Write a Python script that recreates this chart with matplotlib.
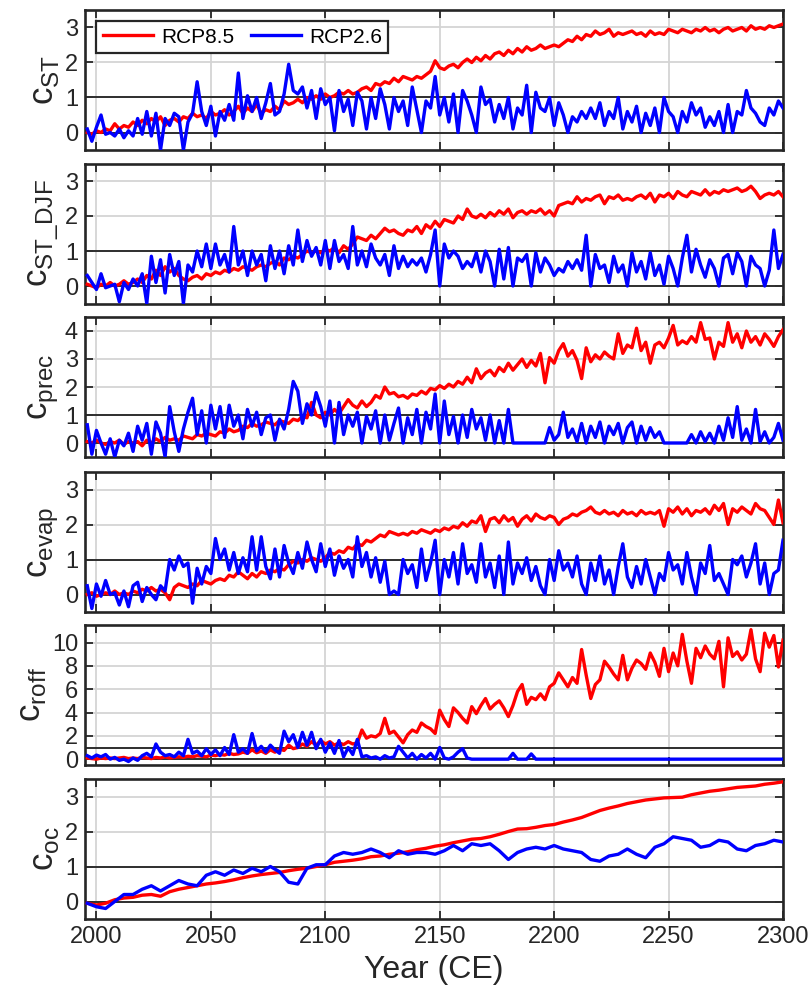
import numpy as np
import matplotlib
matplotlib.use('Agg')
from matplotlib import pyplot as plt

plt.rcParams['font.family'] = ['Liberation Sans', 'DejaVu Sans']
plt.rcParams['mathtext.fontset'] = 'custom'
plt.rcParams['mathtext.rm'] = 'Liberation Sans'

# yearly values sampled every 2 years, 1996..2300
years = np.arange(1996, 2301, 2)

st_85 = [0.0, -0.05, 0.05, 0.0, 0.1, 0.05, 0.25, 0.1, 0.2, 0.15,
         0.3, 0.2, 0.35, 0.25, 0.4, 0.3, 0.45, 0.2, 0.35, 0.4,
         0.3, 0.45, 0.4, 0.55, 0.45, 0.5, 0.4, 0.6, 0.5, 0.55,
         0.65, 0.5, 0.6, 0.75, 0.55, 0.7, 0.6, 0.8, 0.55, 0.65,
         0.6, 0.75, 0.65, 0.9, 0.8, 0.85, 0.95, 0.85, 1.0, 0.95,
         1.05, 0.95, 1.1, 1.0, 1.05, 1.15, 1.1, 1.2, 1.1, 1.15,
         1.25, 1.3, 1.2, 1.4, 1.35, 1.45, 1.4, 1.55, 1.45, 1.6,
         1.55, 1.5, 1.6, 1.55, 1.65, 1.75, 2.05, 1.85, 1.8, 1.9,
         1.95, 1.85, 2.0, 2.1, 2.0, 2.15, 2.05, 2.2, 2.1, 2.25,
         2.3, 2.2, 2.35, 2.25, 2.4, 2.3, 2.45, 2.35, 2.4, 2.5,
         2.4, 2.45, 2.5, 2.45, 2.55, 2.65, 2.6, 2.75, 2.65, 2.8,
         2.75, 2.9, 2.8, 2.85, 2.95, 2.75, 2.85, 2.8, 2.85, 2.9,
         2.8, 2.85, 2.75, 2.9, 2.8, 2.85, 2.8, 2.95, 2.9, 2.85,
         2.95, 2.9, 2.85, 2.95, 2.9, 3.0, 2.9, 2.95, 2.85, 2.95,
         3.0, 2.9, 2.95, 3.0, 2.9, 3.05, 2.95, 3.0, 2.95, 3.05,
         3.0, 3.05, 3.1]
st_26 = [0.1, -0.25, 0.15, 0.5, -0.05, 0.0, -0.1, 0.1, -0.15, 0.05,
         -0.1, 0.4, -0.05, 0.6, -0.1, 0.55, -0.5, 0.4, 0.2, 0.55,
         0.45, -0.5, 0.3, 0.55, 1.45, 0.6, 0.2, 0.75, -0.1, 0.6,
         0.35, 0.8, 0.35, 1.7, 0.4, 1.05, 0.6, 1.0, 0.4, 0.85,
         1.4, 0.5, 0.6, 1.1, 1.95, 1.2, 1.1, 1.3, 0.7, 1.2,
         0.4, 1.25, 0.8, 1.0, 0.05, 1.2, 0.6, 0.95, 0.2, 1.15,
         0.9, 0.1, 1.0, 0.4, 1.25, 0.8, 0.1, 1.0, 0.6, 0.9,
         0.2, 1.3, 0.65, 0.0, 0.9, 0.7, 1.6, 0.5, 1.0, 0.3,
         1.1, 0.0, 1.2, 0.9, 0.5, 0.0, 1.3, 0.8, 0.95, 0.3,
         0.8, 0.4, 1.0, 0.1, 0.7, 0.5, 1.35, 0.0, 1.15, 0.7,
         0.6, 1.0, 0.2, 0.85, 0.5, 0.0, 0.45, 0.3, 0.6, 0.4,
         0.7, 0.4, 0.85, 0.2, 0.6, 0.4, 1.0, 0.1, 0.6, 0.3,
         0.75, 0.0, 0.55, 0.2, 0.7, 0.0, 1.0, 0.6, 0.45, 0.0,
         0.6, 0.3, 0.85, 0.5, 0.7, 0.15, 0.45, 0.2, 0.6, 0.0,
         0.8, 0.0, 0.6, 0.5, 1.2, 0.7, 0.55, 0.3, 0.2, 0.7,
         0.5, 0.9, 0.7]

djf_85 = [0.05, 0.0, -0.05, 0.05, 0.0, 0.1, 0.0, 0.05, 0.15, 0.05,
          0.1, 0.2, 0.1, 0.3, 0.2, 0.45, 0.3, 0.55, 0.4, 0.5,
          0.3, 0.2, 0.15, 0.25, 0.3, 0.2, 0.35, 0.3, 0.4, 0.35,
          0.45, 0.4, 0.5, 0.45, 0.55, 0.5, 0.45, 0.55, 0.6, 0.55,
          0.65, 0.7, 0.6, 0.8, 0.75, 0.85, 0.8, 0.9, 1.0, 0.95,
          1.0, 0.95, 1.05, 1.0, 1.1, 0.95, 1.15, 1.05, 1.2, 1.4,
          1.35, 1.3, 1.45, 1.35, 1.5, 1.65, 1.55, 1.6, 1.5, 1.45,
          1.6, 1.55, 1.7, 1.5, 1.75, 1.65, 1.85, 1.7, 1.9, 1.85,
          1.8, 2.0, 1.9, 2.2, 2.0, 1.95, 2.05, 1.95, 2.1, 2.0,
          2.15, 2.05, 2.2, 1.95, 2.1, 2.15, 2.05, 2.15, 2.1, 2.2,
          2.05, 2.15, 2.0, 2.3, 2.35, 2.4, 2.35, 2.55, 2.4, 2.5,
          2.45, 2.55, 2.6, 2.35, 2.55, 2.5, 2.6, 2.45, 2.5, 2.45,
          2.55, 2.6, 2.5, 2.65, 2.4, 2.6, 2.55, 2.65, 2.5, 2.7,
          2.6, 2.55, 2.7, 2.65, 2.6, 2.75, 2.6, 2.7, 2.65, 2.75,
          2.7, 2.75, 2.8, 2.7, 2.75, 2.85, 2.7, 2.5, 2.6, 2.65,
          2.6, 2.7, 2.55]
djf_26 = [0.3, 0.1, -0.1, 0.35, -0.05, 0.0, 0.05, -0.45, 0.1, -0.1,
          0.2, 0.0, 0.35, -0.5, 0.85, 0.1, 0.75, -0.2, 0.9, 0.3,
          0.7, -0.5, 0.6, 0.4, 1.0, 0.55, 1.2, 0.5, 1.2, 0.6,
          0.9, 0.4, 1.7, 0.6, 1.0, 0.3, 1.0, 0.6, 0.9, 0.15,
          1.15, 0.5, 1.0, 0.35, 1.15, 0.6, 1.6, 0.7, 1.3, 0.85,
          1.1, 0.6, 1.3, 0.5, 1.3, 0.7, 0.9, 0.5, 1.7, 0.6,
          1.0, 0.55, 1.2, 0.8, 0.6, 0.9, 0.3, 1.15, 0.5, 0.85,
          0.55, 0.75, 0.6, 0.8, 0.4, 0.9, 1.6, 0.0, 1.2, 0.8,
          1.0, 0.85, 0.5, 0.7, 0.55, 0.95, 0.4, 1.0, 0.7, 0.0,
          1.05, 0.2, 1.1, 0.0, 0.8, 0.7, 0.9, 0.0, 0.95, 0.4,
          0.8, 0.6, 0.3, 0.5, 0.4, 0.7, 0.5, 0.75, 0.45, 1.45,
          0.0, 0.9, 0.5, 0.6, 0.1, 0.85, 0.4, 0.6, 0.0, 0.95,
          0.4, 0.7, 0.2, 0.95, 0.3, 0.6, 0.05, 0.85, 0.5, 0.0,
          0.8, 1.45, 0.4, 1.05, 0.6, 0.25, 0.75, 0.5, 0.0, 0.8,
          0.9, 0.35, 0.95, 0.7, 0.0, 0.85, 0.6, 0.5, 0.0, 0.45,
          1.6, 0.5, 0.9]

prec_85 = [0.05, 0.0, 0.1, 0.0, -0.05, 0.05, 0.0, 0.1, -0.05, 0.05,
           0.0, 0.05, -0.1, 0.1, 0.0, 0.15, 0.05, 0.2, 0.1, 0.15,
           0.1, 0.25, 0.2, 0.15, 0.3, 0.25, 0.35, 0.3, 0.25, 0.4,
           0.35, 0.5, 0.4, 0.45, 0.6, 0.55, 0.7, 0.6, 0.65, 0.75,
           0.7, 0.65, 0.8, 0.75, 0.7, 0.85, 0.8, 0.95, 0.9, 1.45,
           1.0, 0.9, 1.1, 1.0, 1.2, 1.05, 1.3, 1.55, 1.35, 1.25,
           1.5, 1.3, 1.45, 1.7, 1.6, 2.0, 1.75, 1.8, 1.65, 1.7,
           1.6, 1.75, 1.7, 1.85, 1.75, 1.95, 1.9, 2.05, 1.95, 2.1,
           2.0, 2.2, 2.1, 2.35, 2.15, 2.65, 2.3, 2.5, 2.6, 2.4,
           2.7, 2.55, 2.85, 2.6, 2.8, 3.0, 2.7, 2.95, 2.75, 3.2,
           2.15, 3.05, 2.85, 3.3, 3.55, 3.1, 3.3, 2.95, 2.3, 3.4,
           2.9, 3.15, 3.0, 3.25, 3.1, 3.0, 3.9, 3.2, 3.5, 3.4,
           4.1, 3.3, 3.6, 2.85, 3.5, 3.6, 3.4, 3.75, 4.2, 3.5,
           3.65, 3.55, 3.8, 3.6, 4.3, 3.7, 3.75, 3.0, 3.6, 3.45,
           4.3, 3.6, 3.9, 3.4, 4.0, 3.6, 3.8, 3.5, 3.9, 3.7,
           3.45, 3.8, 4.05]
prec_26 = [0.65, -0.4, 0.45, 0.0, -0.4, 0.15, -0.5, 0.1, -0.1, 0.35,
           -0.3, 0.6, 0.1, 0.7, -0.4, 0.75, 0.35, -0.5, 1.3, 0.4,
           -0.3, 0.5, 1.1, 1.6, 0.3, 1.15, 0.0, 1.35, 0.5, 1.3,
           0.2, 1.35, 0.6, 1.0, 0.15, 1.2, 0.6, 1.1, 0.3, 0.9,
           1.0, 0.1, 0.85, 0.5, 1.2, 2.2, 1.85, 0.7, 1.4, 1.0,
           1.8, 1.3, 0.6, 1.5, 0.0, 1.45, 0.3, 1.0, 0.6, 1.1,
           0.0, 0.95, 0.5, 1.15, 0.0, 1.0, 0.1, 0.7, 1.25, 0.0,
           0.9, 0.3, 1.2, 0.0, 1.1, 0.5, 1.75, 0.0, 1.5, 0.3,
           0.95, 0.0, 1.0, 0.2, 1.2, 0.5, 0.9, 0.1, 1.0, 0.0,
           0.8, 0.0, 1.2, 0.0, 0.0, 0.0, 0.0, 0.0, 0.0, 0.0,
           0.0, 0.55, 0.1, 0.3, 1.1, 0.2, 0.5, 0.05, 0.7, 0.0,
           0.6, 0.2, 0.75, 0.0, 0.6, 0.3, 0.7, 0.0, 0.55, 0.75,
           0.0, 0.6, 0.1, 0.55, 0.2, 0.4, 0.0, 0.0, 0.0, 0.0,
           0.0, 0.0, 0.3, 0.0, 0.4, 0.05, 0.35, 0.0, 0.6, 0.1,
           0.9, 0.2, 1.3, 0.1, 0.5, 0.0, 1.2, 0.05, 0.4, 0.0,
           0.2, 0.7, 0.1]

evap_85 = [0.0, 0.05, -0.05, 0.0, 0.05, 0.0, 0.1, 0.0, 0.05, 0.0,
           0.1, 0.05, 0.15, 0.1, 0.2, 0.1, 0.15, 0.05, -0.15, 0.2,
           0.3, 0.25, 0.2, 0.3, 0.25, 0.4, 0.35, 0.3, 0.4, 0.45,
           0.4, 0.55, 0.5, 0.65, 0.55, 0.45, 0.6, 0.5, 0.65, 0.6,
           0.7, 0.65, 0.75, 0.7, 0.85, 0.95, 0.9, 1.0, 0.95, 1.05,
           1.0, 0.95, 1.05, 1.2, 1.15, 1.25, 1.2, 1.35, 1.3, 1.45,
           1.4, 1.55, 1.5, 1.6, 1.7, 1.65, 1.8, 1.75, 1.7, 1.75,
           1.7, 1.8, 1.75, 1.85, 1.8, 1.75, 1.85, 1.8, 1.9, 1.85,
           1.95, 1.9, 2.05, 1.95, 2.1, 2.05, 2.25, 1.8, 2.15, 2.2,
           2.05, 2.25, 2.1, 2.2, 1.95, 2.15, 2.25, 2.1, 2.3, 2.2,
           2.15, 2.25, 2.2, 2.0, 2.15, 2.2, 2.3, 2.25, 2.35, 2.4,
           2.5, 2.35, 2.3, 2.4, 2.3, 2.35, 2.25, 2.4, 2.3, 2.35,
           2.25, 2.4, 2.3, 2.35, 2.3, 2.4, 1.95, 2.45, 2.35, 2.5,
           2.3, 2.45, 2.25, 2.4, 2.35, 2.45, 2.3, 2.55, 2.4, 2.6,
           2.0, 2.45, 2.35, 2.5, 2.4, 2.3, 2.6, 2.45, 2.4, 2.2,
           2.0, 2.7, 2.05]
evap_26 = [0.25, -0.4, 0.3, -0.05, 0.4, 0.0, 0.05, -0.3, 0.1, -0.35,
           0.25, 0.35, -0.2, 0.2, 0.0, -0.15, 0.25, 0.1, 1.0, 0.7,
           1.1, 0.8, 0.9, -0.25, 0.75, 0.3, 0.8, 0.6, 1.6, 1.0,
           1.3, 0.7, 1.2, 0.6, 1.05, 0.65, 1.65, 0.7, 1.65, 0.8,
           0.45, 1.3, 0.5, 1.4, 0.9, 0.6, 1.2, 0.75, 1.5, 1.0,
           0.65, 1.45, 0.8, 1.3, 0.55, 1.1, 0.75, 1.0, 0.5, 1.65,
           0.8, 1.2, 0.5, 1.05, 0.35, 0.95, 0.0, 0.1, 0.0, 1.0,
           0.6, 0.85, 0.2, 1.3, 0.4, 0.9, 1.55, 0.0, 1.0, 0.5,
           1.2, 0.3, 1.45, 0.6, 0.85, 0.35, 1.45, 0.5, 0.9, 0.2,
           1.1, 0.0, 1.5, 0.3, 0.9, 0.6, 1.05, 0.4, 0.8, 0.25,
           0.0, 1.0, 0.4, 1.25, 0.7, 0.9, 0.5, 1.1, 0.3, 0.0,
           0.9, 0.4, 1.1, 0.3, 0.7, 0.0, 0.8, 1.45, 0.5, 0.2,
           0.8, 0.3, 1.0, 0.5, 0.0, 0.6, 0.4, 1.2, 0.7, 0.85,
           0.3, 1.2, 0.5, 0.0, 0.9, 0.6, 1.4, 0.4, 0.6, 0.3,
           0.0, 1.0, 0.85, 1.1, 0.5, 0.9, 1.45, 0.3, 0.9, 0.0,
           0.6, 0.7, 1.55]

roff_85 = [0.1, 0.05, 0.0, 0.1, 0.05, 0.1, 0.05, 0.1, 0.15, 0.05,
           0.1, 0.05, 0.15, 0.1, 0.05, 0.15, 0.1, 0.2, 0.1, 0.15,
           0.2, 0.15, 0.25, 0.2, 0.3, 0.25, 0.2, 0.35, 0.3, 0.4,
           0.35, 0.5, 0.4, 0.45, 0.6, 0.5, 0.8, 0.55, 0.7, 0.5,
           0.8, 0.6, 0.85, 0.75, 1.2, 0.9, 1.0, 1.3, 1.1, 1.5,
           1.2, 1.6, 1.3, 1.5, 1.2, 1.4, 1.25, 1.5, 1.3, 1.4,
           2.5, 1.8, 2.0, 1.9, 2.2, 3.5, 2.2, 2.4, 1.9, 1.4,
           2.1, 2.5, 2.3, 3.1, 2.8, 2.6, 2.2, 4.2, 3.4, 2.8,
           4.4, 4.0, 3.5, 3.1, 4.5, 3.9, 4.6, 5.2, 4.3, 4.7,
           5.0, 4.4, 3.65, 4.6, 5.8, 6.4, 4.7, 5.3, 5.1, 5.6,
           5.1, 6.2, 6.5, 7.4, 6.8, 6.2, 7.0, 6.5, 9.4, 7.2,
           5.2, 6.4, 6.8, 8.4, 7.9, 7.3, 6.8, 8.9, 6.8, 7.8,
           8.5, 8.2, 7.7, 9.1, 8.3, 7.1, 9.5, 7.5, 9.1, 8.0,
           10.7, 8.4, 6.5, 9.5, 8.7, 9.7, 9.0, 8.6, 10.1, 6.2,
           10.4, 8.8, 9.2, 8.5, 9.0, 11.1, 8.6, 7.5, 10.8, 9.6,
           10.6, 7.9, 10.2]
roff_26 = [0.3, 0.1, 0.35, 0.2, 0.4, 0.0, 0.15, -0.1, 0.0, -0.2,
           0.1, -0.1, 0.3, 0.5, 0.2, 1.3, 0.6, 0.3, 0.4, 0.2,
           0.6, 0.3, 1.7, 0.5, 0.7, 0.3, 0.9, 0.4, 0.8, 0.3,
           1.0, 0.4, 2.1, 0.6, 0.9, 0.5, 2.2, 0.7, 1.1, 0.6,
           1.2, 0.8, 0.5, 2.4, 1.5, 2.1, 1.0, 2.3, 1.2, 2.3,
           0.9, 1.7, 0.6, 1.4, 0.5, 1.6, 0.2, 1.0, 0.4, 1.7,
           0.2, 0.3, 0.1, 0.2, 0.0, 0.3, 0.1, 0.2, 1.1, 0.6,
           0.1, 0.5, 0.0, 0.4, 0.1, 0.5, 0.0, 1.0, 0.1, 0.0,
           0.2, 0.6, 0.9, 0.1, 0.0, 0.0, 0.0, 0.0, 0.0, 0.0,
           0.0, 0.0, 0.0, 0.5, 0.0, 0.0, 0.0, 0.45, 0.0, 0.0,
           0.0, 0.0, 0.0, 0.0, 0.0, 0.0, 0.0, 0.0, 0.0, 0.0,
           0.0, 0.0, 0.0, 0.0, 0.0, 0.0, 0.0, 0.0, 0.0, 0.0,
           0.0, 0.0, 0.0, 0.0, 0.0, 0.0, 0.0, 0.0, 0.0, 0.0,
           0.0, 0.0, 0.0, 0.0, 0.0, 0.0, 0.0, 0.0, 0.0, 0.0,
           0.0, 0.0, 0.0, 0.0, 0.0, 0.0, 0.0, 0.0, 0.0, 0.0,
           0.0, 0.0, 0.0]

# ocean index is smooth, sampled every 4 years
years_oc = np.arange(1996, 2301, 4)
oc_85 = [-0.05, -0.1, -0.05, 0.05, 0.1, 0.12, 0.18, 0.2, 0.15, 0.28,
         0.35, 0.4, 0.45, 0.5, 0.53, 0.57, 0.62, 0.68, 0.73, 0.77,
         0.8, 0.83, 0.88, 0.92, 0.95, 1.0, 1.05, 1.12, 1.15, 1.18,
         1.22, 1.28, 1.3, 1.35, 1.38, 1.42, 1.48, 1.52, 1.58, 1.62,
         1.68, 1.73, 1.78, 1.8, 1.85, 1.92, 2.0, 2.07, 2.08, 2.12,
         2.17, 2.2, 2.27, 2.33, 2.4, 2.5, 2.6, 2.67, 2.73, 2.8,
         2.85, 2.9, 2.93, 2.96, 2.97, 2.98, 3.05, 3.1, 3.15, 3.18,
         3.22, 3.26, 3.28, 3.3, 3.35, 3.38, 3.42]
oc_26 = [-0.05, -0.15, -0.2, 0.0, 0.2, 0.2, 0.35, 0.45, 0.3, 0.45,
         0.6, 0.5, 0.45, 0.75, 0.85, 0.75, 0.9, 0.8, 0.95, 0.85,
         1.0, 0.85, 0.55, 0.5, 0.95, 1.05, 1.05, 1.3, 1.4, 1.35,
         1.4, 1.5, 1.4, 1.25, 1.45, 1.35, 1.4, 1.4, 1.35, 1.45,
         1.6, 1.45, 1.65, 1.6, 1.65, 1.45, 1.2, 1.4, 1.5, 1.55,
         1.5, 1.6, 1.5, 1.45, 1.4, 1.2, 1.15, 1.3, 1.35, 1.5,
         1.35, 1.25, 1.55, 1.65, 1.85, 1.8, 1.75, 1.55, 1.6, 1.75,
         1.7, 1.5, 1.45, 1.6, 1.65, 1.75, 1.7]

labels = [r'$\mathrm{c}_{\mathrm{ST}}$', r'$\mathrm{c}_{\mathrm{ST\_DJF}}$',
          r'$\mathrm{c}_{\mathrm{prec}}$', r'$\mathrm{c}_{\mathrm{evap}}$',
          r'$\mathrm{c}_{\mathrm{roff}}$', r'$\mathrm{c}_{\mathrm{oc}}$']
panels = [(years, st_85, st_26), (years, djf_85, djf_26),
          (years, prec_85, prec_26), (years, evap_85, evap_26),
          (years, roff_85, roff_26), (years_oc, oc_85, oc_26)]
ylims = [(-0.5, 3.5), (-0.5, 3.5), (-0.5, 4.5), (-0.5, 3.5), (-0.5, 11.5), (-0.5, 3.5)]
yticks = [[0, 1, 2, 3], [0, 1, 2, 3], [0, 1, 2, 3, 4], [0, 1, 2, 3],
          [0, 2, 4, 6, 8, 10], [0, 1, 2, 3]]

W, H = 810, 991
fig = plt.figure(figsize=(W / 100, H / 100), dpi=100)
tops = [10, 163.5, 317, 472, 625, 779]
ph = 140
left, right = 85, 783

for i in range(6):
    ax = fig.add_axes([left / W, 1 - (tops[i] + ph) / H, (right - left) / W, ph / H])
    x, r, b = panels[i]
    ax.grid(True, color='#d4d4d4', lw=1.3)
    ax.axhline(0, color='#2e2e2e', lw=1.4, zorder=2)
    ax.axhline(1, color='#2e2e2e', lw=1.4, zorder=2)
    ax.plot(x, r, color='#ff0000', lw=2.4, label='RCP8.5', zorder=3)
    ax.plot(x, b, color='#0000ff', lw=2.4, label='RCP2.6', zorder=4)
    ax.set_xlim(1995, 2300)
    ax.set_ylim(*ylims[i])
    ax.set_yticks(yticks[i])
    ax.set_xticks([2000, 2050, 2100, 2150, 2200, 2250, 2300])
    ax.tick_params(direction='in', length=6, width=1.3, top=True, right=True,
                   labelsize=17, colors='#262626', pad=5)
    for s in ax.spines.values():
        s.set_linewidth(1.9)
        s.set_color('#262626')
    ax.set_ylabel(labels[i], fontsize=25, color='#262626', labelpad=3)
    if i < 5:
        ax.set_xticklabels([])
    else:
        ax.set_xlabel('Year (CE)', fontsize=23, color='#262626', labelpad=5)
    if i == 0:
        leg = ax.legend(loc='upper left', ncol=2, fontsize=15, frameon=True, fancybox=False,
                        edgecolor='#262626', handlelength=2.4, columnspacing=0.8,
                        handletextpad=0.4, borderaxespad=0.55, borderpad=0.3)
        leg.get_frame().set_linewidth(1.6)
        leg.get_frame().set_alpha(1)

fig.savefig('out.png', dpi=100)
